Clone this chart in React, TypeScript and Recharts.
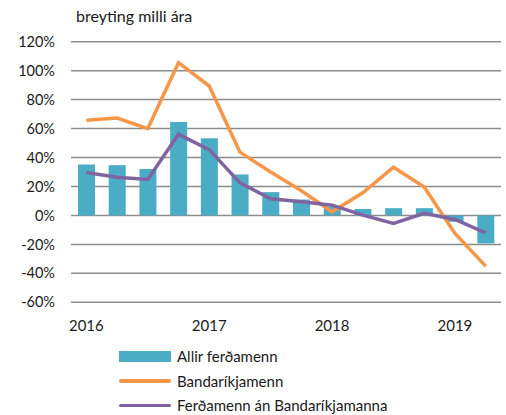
import React from 'react';
import { ComposedChart, Bar, Line, XAxis, YAxis, CartesianGrid } from 'recharts';

const quarters = ['2016 Q1','2016 Q2','2016 Q3','2016 Q4','2017 Q1','2017 Q2','2017 Q3','2017 Q4','2018 Q1','2018 Q2','2018 Q3','2018 Q4','2019 Q1','2019 Q2'];
const tickLabels = ['2016','','','','2017','','','','2018','','','','2019',''];
const allir = [35.2, 34.7, 32.1, 64.6, 53.3, 28.3, 16.1, 11.0, 6.0, 4.5, 5.0, 5.0, -4.4, -19.3];
const bandarikin = [65.7, 67.3, 60.0, 105.5, 89.4, 43.7, 30.0, 17.0, 2.5, 15.6, 33.3, 19.7, -12.4, -35.0];
const anBandarikjanna = [29.7, 26.4, 24.8, 56.0, 45.5, 22.5, 11.5, 9.4, 7.1, 0.2, -5.5, 1.4, -2.8, -12.0];
const yTicks = [-60, -40, -20, 0, 20, 40, 60, 80, 100, 120];

const seriesNames = ['Allir ferðamenn', 'Bandaríkjamenn', 'Ferðamenn án Bandaríkjamanna'];
const colors = { bar: '#4BACC6', orange: '#F79646', purple: '#8064A2' };

const data = quarters.map((q, i) => ({
  q,
  label: tickLabels[i],
  allir: allir[i],
  band: bandarikin[i],
  an: anBandarikjanna[i],
}));

const FONT = 'Lato, "Open Sans", sans-serif';

const LegendBox = () => (
  <div style={{ position: 'absolute', left: 119, top: 344, fontFamily: FONT, fontSize: 15, color: '#1a1a1a' }}>
    {seriesNames.map((n, i) => (
      <div key={n} style={{ display: 'flex', alignItems: 'center', height: 24.5 }}>
        <div
          style={{
            width: 52,
            height: i === 0 ? 11 : 3.5,
            background: i === 0 ? colors.bar : i === 1 ? colors.orange : colors.purple,
            borderRadius: i === 0 ? 0 : 2,
            marginRight: 6,
          }}
        />
        <span>{n}</span>
      </div>
    ))}
  </div>
);

export default function App() {
  return (
    <div style={{ position: 'absolute', left: 0, top: 0, width: 506, height: 415, background: '#fff' }}>
      <div style={{ position: 'absolute', left: 76, top: 6, fontFamily: FONT, fontSize: 16, color: '#1a1a1a' }}>
        breyting milli ára
      </div>
      <ComposedChart
        width={506}
        height={415}
        data={data}
        margin={{ top: 41.7, right: 5, bottom: 72.7, left: 0 }}
        barCategoryGap={0}
      >
        <CartesianGrid vertical={false} stroke="#8c8c8c" strokeWidth={1.5} />
        <XAxis
          dataKey="label"
          interval={0}
          axisLine={false}
          tickLine={false}
          tickMargin={12}
          tick={{ fontFamily: FONT, fontSize: 15, fill: '#1a1a1a' }}
          height={40}
        />
        <YAxis
          domain={[-60, 120]}
          ticks={yTicks}
          interval={0}
          axisLine={false}
          tickLine={false}
          width={71}
          tickMargin={10}
          tickFormatter={(v: number) => `${v}%`}
          tick={{ fontFamily: FONT, fontSize: 14.5, fill: '#1a1a1a' }}
        />
        <Bar dataKey="allir" name={seriesNames[0]} fill={colors.bar} barSize={17} isAnimationActive={false} />
        <Line dataKey="band" name={seriesNames[1]} stroke={colors.orange} strokeWidth={3.5} dot={false} isAnimationActive={false} />
        <Line dataKey="an" name={seriesNames[2]} stroke={colors.purple} strokeWidth={3.5} dot={false} isAnimationActive={false} />
      </ComposedChart>
      <LegendBox />
    </div>
  );
}
